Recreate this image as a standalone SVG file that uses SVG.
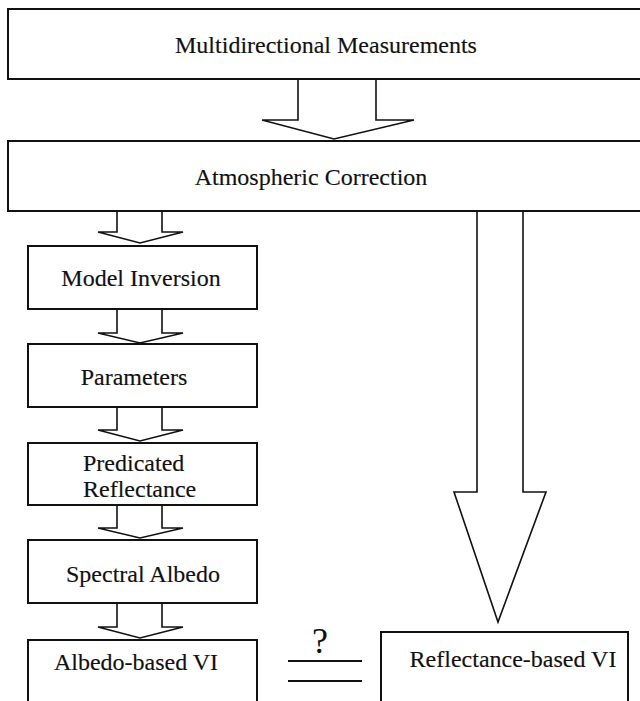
<svg xmlns="http://www.w3.org/2000/svg" width="640" height="701" viewBox="0 0 640 701">
<style>
.box{fill:#fff;stroke:#111;stroke-width:2}
.arr{fill:#fff;stroke:#111;stroke-width:1.6;stroke-linejoin:miter}
.eq{stroke:#111;stroke-width:2}
text{font-family:"Liberation Serif","Times New Roman",serif;font-size:24px;fill:#111;stroke:#111;stroke-width:0.15}
.m{text-anchor:middle}
.q{font-size:36px;stroke:none}
</style>
<rect width="640" height="701" fill="#fff"/>
<g id="connectors">
<polygon class="arr" points="298,79 376,79 376,120 414,120 334,139 262,120 298,120"/>
<polygon class="arr" points="117,211 162,211 162,232 183,232 140,243 98,232 117,232"/>
<polygon class="arr" points="117,309 162,309 162,333 183,333 140,343 98,333 117,333"/>
<polygon class="arr" points="117,407 162,407 162,430 183,430 140,441 98,430 117,430"/>
<polygon class="arr" points="117,505 162,505 162,528 183,528 140,538 98,528 117,528"/>
<polygon class="arr" points="117,603 162,603 162,627 183,627 140,638 98,627 117,627"/>
<polygon class="arr" points="477,211 523,211 523,492 546,492 498,622 454,492 477,492"/>
</g>
<g id="multidirectional">
<rect class="box" x="8" y="9" width="640" height="70"/>
<text class="m" x="326" y="53">Multidirectional Measurements</text>
</g>
<g id="atmospheric">
<rect class="box" x="8" y="141" width="640" height="70"/>
<text class="m" x="311" y="185">Atmospheric Correction</text>
</g>
<g id="model-inversion">
<rect class="box" x="28" y="246" width="229" height="63"/>
<text class="m" x="141" y="286">Model Inversion</text>
</g>
<g id="parameters">
<rect class="box" x="28" y="344" width="229" height="63"/>
<text class="m" x="134" y="385">Parameters</text>
</g>
<g id="predicated">
<rect class="box" x="28" y="443" width="229" height="62"/>
<text x="83" y="471">Predicated</text>
<text x="83" y="497">Reflectance</text>
</g>
<g id="spectral-albedo">
<rect class="box" x="28" y="540" width="229" height="63"/>
<text class="m" x="143" y="582">Spectral Albedo</text>
</g>
<g id="albedo-vi">
<rect class="box" x="28" y="640" width="229" height="80"/>
<text class="m" x="136" y="670">Albedo-based VI</text>
</g>
<g id="compare">
<text class="m q" x="320" y="653">?</text>
<line class="eq" x1="288" y1="661" x2="362" y2="661"/>
<line class="eq" x1="288" y1="681" x2="362" y2="681"/>
</g>
<g id="reflectance-vi">
<rect class="box" x="381" y="632" width="247" height="90"/>
<text class="m" x="513" y="667">Reflectance-based VI</text>
</g>
</svg>
